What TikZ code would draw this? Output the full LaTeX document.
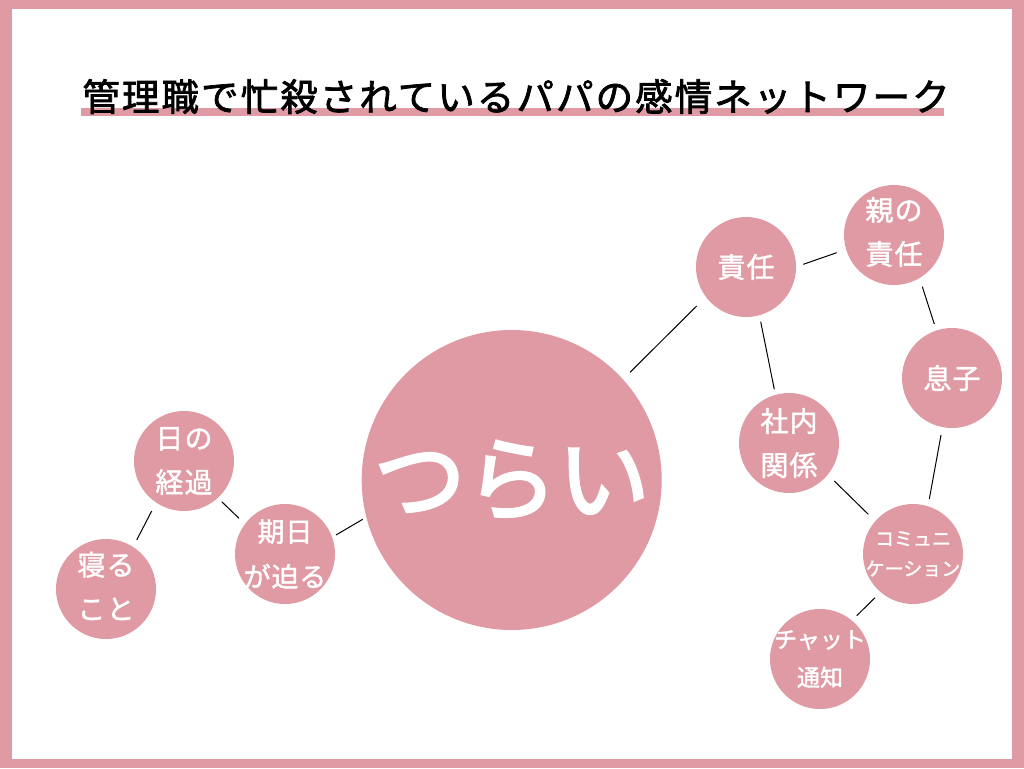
\documentclass[tikz,border=0pt]{standalone}
\usepackage{fontspec}
\setmainfont{Noto Sans CJK JP}
\definecolor{pinkc}{RGB}{224,154,164}
\begin{document}
\begin{tikzpicture}[x=1pt,y=-1pt,
  bub/.style={circle,fill=pinkc,draw=none,inner sep=0pt,minimum size=100pt},
  bubtxt/.style={text=white,align=center,inner sep=0pt,font=\fontsize{28}{44}\selectfont\addfontfeature{LetterSpace=4,FakeBold=1.5}},
  link/.style={draw=black,line width=1pt}]
\useasboundingbox (0,0) rectangle (1024,768);
\fill[pinkc] (0,0) rectangle (1024,768);
\fill[white] (12,9) rectangle (1012,759);
% title
\fill[pinkc] (81,108.3) rectangle (943.5,116);
\node[font=\fontsize{37.5}{40}\selectfont\addfontfeature{LetterSpace=5.5,FakeBold=2},inner sep=0pt] (title) at (516,96.5) {管理職で忙殺されているパパの感情ネットワーク};
% bubbles
\node[bub] (neru) at (106,589) {};
\node[bub] (hi) at (184,461) {};
\node[bub] (kijitsu) at (285,554) {};
\node[bub,minimum size=300pt] (tsurai) at (511.7,480) {};
\node[bub] (sekinin) at (746,267) {};
\node[bub] (oya) at (894,235) {};
\node[bub] (musuko) at (952,378) {};
\node[bub] (shanai) at (789,443) {};
\node[bub] (comm) at (913,554) {};
\node[bub] (chat) at (820,659) {};
% texts
\node[bubtxt] (tneru) at ([yshift=3pt]neru.center) {寝る\\こと};
\node[bubtxt] (thi) at (hi.center) {日の\\経過};
\node[bubtxt,font=\fontsize{27}{45}\selectfont\addfontfeature{LetterSpace=3,FakeBold=1.5}] (tkijitsu) at (kijitsu.center) {期日\\が迫る};
\node[bubtxt,font=\fontsize{92}{92}\selectfont\addfontfeature{FakeBold=3}] (ttsurai) at (tsurai.center) {つらい};
\node[bubtxt] (tsekinin) at (sekinin.center) {責任};
\node[bubtxt] (toya) at ([yshift=3pt]oya.center) {親の\\責任};
\node[bubtxt] (tmusuko) at (musuko.center) {息子};
\node[bubtxt] (tshanai) at (shanai.center) {社内\\関係};
\node[bubtxt,font=\fontsize{19}{30}\selectfont\addfontfeature{FakeBold=1.5}] (tcomm) at (comm.center) {コミュニ\\ケーション};
\node[bubtxt,font=\fontsize{23}{38}\selectfont\addfontfeature{FakeBold=1.5}] (tchat) at (chat.center) {チャット\\通知};
% links
\draw[link] ([shift={(30.7,-49)}]neru.center) -- ([shift={(-32.3,50)}]hi.center);
\draw[link] ([shift={(37.7,40.7)}]hi.center) -- ([shift={(-46,-35.7)}]kijitsu.center);
\draw[link] ([shift={(51,-19)}]kijitsu.center) -- ([shift={(-149,39.3)}]tsurai.center);
\draw[link] ([shift={(118.3,-107.7)}]tsurai.center) -- ([shift={(-49.3,39)}]sekinin.center);
\draw[link] ([shift={(57.3,-2.7)}]sekinin.center) -- ([shift={(-57.3,17.7)}]oya.center);
\draw[link] ([shift={(28.3,51.7)}]oya.center) -- ([shift={(-17.7,-54)}]musuko.center);
\draw[link] ([shift={(14.7,54.7)}]sekinin.center) -- ([shift={(-14.7,-53.7)}]shanai.center);
\draw[link] ([shift={(-11,57)}]musuko.center) -- ([shift={(16.3,-55)}]comm.center);
\draw[link] ([shift={(45.3,38)}]shanai.center) -- ([shift={(-44.7,-39.7)}]comm.center);
\draw[link] ([shift={(-38,43.7)}]comm.center) -- ([shift={(36.7,-43.3)}]chat.center);
\end{tikzpicture}
\end{document}
